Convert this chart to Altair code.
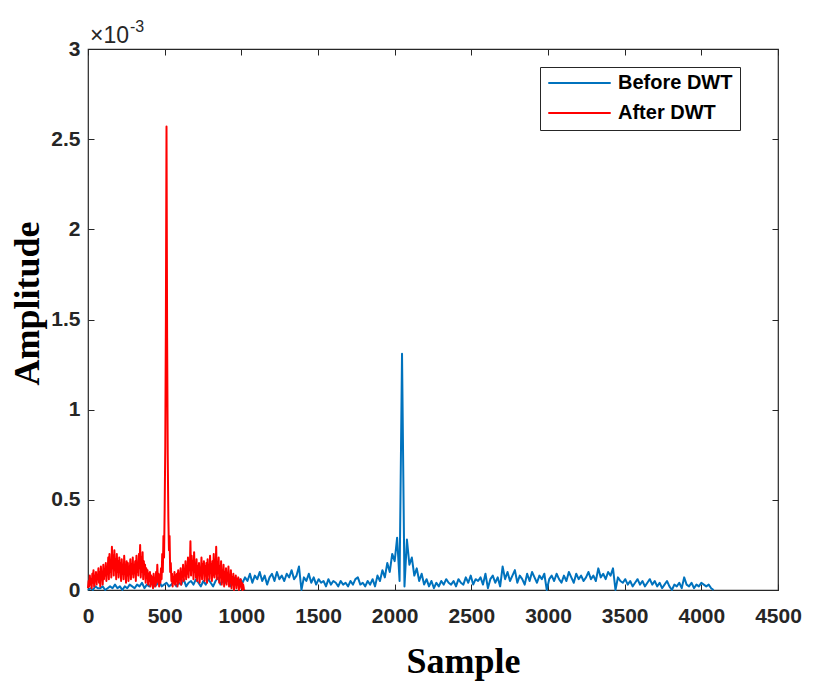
import altair as alt
import pandas as pd

# ---------------- data (amplitude in units of 1e-3) ----------------
blue_step = 16
blue_vals = [
    0.00, 0.01, 0.00, 0.02, 0.01, 0.01, 0.02, 0.00, 0.01, 0.02, 0.01, 0.03, 0.01, 0.02, 0.00, 0.02,
    0.01, 0.03, 0.02, 0.01, 0.03, 0.02, 0.04, 0.01, 0.03, 0.02, 0.04, 0.02, 0.03, 0.05, 0.02, 0.03,
    0.04, 0.02, 0.03, 0.05, 0.02, 0.04, 0.03, 0.06, 0.02, 0.04, 0.05, 0.03, 0.06, 0.04, 0.02, 0.05,
    0.03, 0.06, 0.04, 0.02, 0.05, 0.07, 0.03, 0.05, 0.04, 0.06, 0.02, 0.05, 0.07, 0.03, 0.06, 0.04,
    0.07, 0.05, 0.09, 0.04, 0.08, 0.06, 0.10, 0.05, 0.08, 0.03, 0.07, 0.09, 0.05, 0.10, 0.06, 0.08,
    0.05, 0.09, 0.07, 0.11, 0.06, 0.08, 0.13, 0.00, 0.07, 0.05, 0.09, 0.04, 0.07, 0.03, 0.06, 0.04,
    0.05, 0.02, 0.06, 0.03, 0.05, 0.04, 0.02, 0.05, 0.03, 0.04, 0.02, 0.05, 0.03, 0.06, 0.07, 0.03,
    0.04, 0.02, 0.05, 0.03, 0.06, 0.02, 0.08, 0.05, 0.11, 0.07, 0.15, 0.10, 0.20, 0.16, 0.29, 0.05,
    1.31, 0.02, 0.28, 0.14, 0.18, 0.08, 0.12, 0.05, 0.09, 0.03, 0.06, 0.02, 0.05, 0.01, 0.04, 0.02,
    0.05, 0.03, 0.06, 0.04, 0.03, 0.05, 0.02, 0.06, 0.04, 0.03, 0.07, 0.04, 0.08, 0.03, 0.06, 0.05,
    0.07, 0.03, 0.09, 0.01, 0.06, 0.08, 0.04, 0.07, 0.02, 0.13, 0.06, 0.10, 0.05, 0.08, 0.11, 0.04,
    0.08, 0.06, 0.03, 0.09, 0.05, 0.10, 0.07, 0.04, 0.08, 0.06, 0.09, 0.00, 0.06, 0.08, 0.05, 0.09,
    0.06, 0.04, 0.08, 0.05, 0.10, 0.07, 0.04, 0.09, 0.06, 0.08, 0.05, 0.07, 0.10, 0.06, 0.08, 0.05,
    0.12, 0.07, 0.09, 0.06, 0.10, 0.08, 0.12, 0.00, 0.07, 0.05, 0.04, 0.06, 0.03, 0.05, 0.02, 0.04,
    0.06, 0.03, 0.05, 0.02, 0.04, 0.06, 0.03, 0.05, 0.02, 0.04, 0.01, 0.03, 0.05, 0.02, 0.00, 0.03,
    0.02, 0.04, 0.01, 0.07, 0.03, 0.02, 0.04, 0.01, 0.03, 0.02, 0.04, 0.03, 0.02, 0.03, 0.01, 0.00,
]

red_step = 4
red_vals = [
    0.01, 0.05, 0.02, 0.08, 0.03, 0.06, 0.01, 0.09, 0.04, 0.11, 0.02, 0.07, 0.05, 0.10, 0.03, 0.08,
    0.06, 0.12, 0.04, 0.10, 0.02, 0.13, 0.07, 0.09, 0.03, 0.14, 0.06, 0.11, 0.08, 0.15, 0.05, 0.12,
    0.09, 0.18, 0.06, 0.20, 0.10, 0.16, 0.07, 0.24, 0.12, 0.19, 0.08, 0.22, 0.11, 0.17, 0.06, 0.20,
    0.10, 0.16, 0.07, 0.18, 0.12, 0.15, 0.05, 0.17, 0.09, 0.14, 0.06, 0.19, 0.11, 0.13, 0.04, 0.16,
    0.08, 0.15, 0.05, 0.12, 0.10, 0.17, 0.06, 0.14, 0.09, 0.18, 0.07, 0.13, 0.11, 0.16, 0.05, 0.19,
    0.10, 0.15, 0.08, 0.20, 0.12, 0.25, 0.07, 0.18, 0.10, 0.21, 0.06, 0.16, 0.09, 0.14, 0.04, 0.12,
    0.07, 0.11, 0.03, 0.09, 0.05, 0.10, 0.02, 0.08, 0.04, 0.07, 0.01, 0.09, 0.03, 0.06, 0.02, 0.10,
    0.04, 0.14, 0.05, 0.09, 0.02, 0.08, 0.04, 0.12, 0.06, 0.20, 0.10, 0.30, 0.18, 0.45, 0.80, 1.50,
    2.57, 1.40, 0.75, 0.40, 0.22, 0.30, 0.10, 0.15, 0.05, 0.09, 0.02, 0.07, 0.04, 0.10, 0.03, 0.08,
    0.05, 0.09, 0.02, 0.11, 0.04, 0.08, 0.06, 0.12, 0.03, 0.10, 0.07, 0.14, 0.05, 0.11, 0.08, 0.16,
    0.06, 0.13, 0.09, 0.18, 0.07, 0.15, 0.11, 0.27, 0.08, 0.19, 0.12, 0.16, 0.06, 0.21, 0.10, 0.14,
    0.07, 0.17, 0.05, 0.13, 0.09, 0.15, 0.04, 0.12, 0.08, 0.18, 0.06, 0.14, 0.10, 0.16, 0.05, 0.13,
    0.08, 0.15, 0.04, 0.17, 0.09, 0.12, 0.06, 0.19, 0.10, 0.14, 0.05, 0.16, 0.08, 0.20, 0.07, 0.13,
    0.09, 0.24, 0.06, 0.15, 0.10, 0.18, 0.04, 0.13, 0.07, 0.16, 0.03, 0.11, 0.06, 0.14, 0.02, 0.10,
    0.05, 0.12, 0.03, 0.09, 0.06, 0.13, 0.02, 0.08, 0.04, 0.11, 0.01, 0.07, 0.03, 0.09, 0.00, 0.06,
    0.03, 0.08, 0.01, 0.06, 0.04, 0.07, 0.00, 0.05, 0.02, 0.06, 0.01, 0.04, 0.00, 0.03, 0.01, 0.00,
]

series_names = ["Before DWT", "After DWT"]
series_colors = ["#0072BD", "#FF0000"]
x_ticks = [0, 500, 1000, 1500, 2000, 2500, 3000, 3500, 4000, 4500]
y_ticks = [0, 0.5, 1, 1.5, 2, 2.5, 3]
exponent_base = ["×10"]
exponent_power = ["-3"]

blue_df = pd.DataFrame({
    "sample": [i * blue_step for i in range(len(blue_vals))],
    "amp": blue_vals,
    "series": series_names[0],
})
red_df = pd.DataFrame({
    "sample": [i * red_step for i in range(len(red_vals))],
    "amp": red_vals,
    "series": series_names[1],
})

AX = "#262626"
x_scale = alt.Scale(domain=[0, 4500], nice=False, zero=False)
y_scale = alt.Scale(domain=[0, 3], nice=False, zero=False)

color_enc = alt.Color(
    "series:N",
    scale=alt.Scale(domain=series_names, range=series_colors),
    legend=alt.Legend(
        orient="none", legendX=452, legendY=18, direction="vertical",
        title="", symbolType="stroke", symbolSize=3900, symbolStrokeWidth=2,
        clipHeight=18, rowPadding=10, padding=7, labelOffset=6,
        labelFont="Liberation Sans", labelFontWeight="bold", labelFontSize=20,
        labelColor="black", strokeColor=AX, fillColor="white", cornerRadius=0,
        labelExpr="datum.label == 'Before DWT' ? '\u00a0Before DWT' : datum.label",
    ),
)

common_axis = dict(
    domain=False, grid=False, tickSize=6, offset=-6, tickColor=AX, tickWidth=1,
)

bottom_axis = alt.Axis(
    orient="bottom", values=x_ticks, format="d", labelFlush=False, labelOverlap=False,
    labelPadding=15, labelFont="Liberation Sans", labelFontWeight="bold",
    labelFontSize=21, labelColor=AX, title="Sample", titleFont="Liberation Serif",
    titleFontWeight="bold", titleFontSize=36, titleColor="black",
    titleX=375, titleY=88, titleBaseline="alphabetic", titleAlign="center",
    **common_axis,
)
left_axis = alt.Axis(
    orient="left", values=y_ticks, format="~g", labelFlush=False,
    labelOverlap=False, labelPadding=8, labelFont="Liberation Sans",
    labelFontWeight="bold", labelFontSize=21, labelColor=AX,
    title="Amplitude", titleFont="Liberation Serif", titleFontWeight="bold",
    titleFontSize=36, titleColor="black", titleAngle=270, titleX=-56,
    titleY=254, titleBaseline="alphabetic", titleAlign="center",
    **common_axis,
)
top_axis = alt.Axis(orient="top", values=x_ticks, labels=False, title="", **common_axis)
right_axis = alt.Axis(orient="right", values=y_ticks, labels=False, title="", **common_axis)

blue_line = alt.Chart(blue_df).mark_line(strokeWidth=2, strokeJoin="round").encode(
    x=alt.X("sample:Q", scale=x_scale, axis=bottom_axis),
    y=alt.Y("amp:Q", scale=y_scale, axis=left_axis),
    color=color_enc,
)
red_line = alt.Chart(red_df).mark_line(strokeWidth=2, strokeJoin="round").encode(
    x=alt.X("sample:Q", scale=x_scale, axis=top_axis),
    y=alt.Y("amp:Q", scale=y_scale, axis=right_axis),
    color=color_enc,
)

exp_base = alt.Chart(pd.DataFrame({"t": exponent_base})).mark_text(
    align="left", baseline="alphabetic", font="Liberation Sans", fontSize=23, color=AX,
).encode(x=alt.value(2), y=alt.value(-6), text="t:N")
exp_pow = alt.Chart(pd.DataFrame({"t": exponent_power})).mark_text(
    align="left", baseline="alphabetic", font="Liberation Sans", fontSize=16, color=AX,
).encode(x=alt.value(42), y=alt.value(-17), text="t:N")

chart = (
    alt.layer(blue_line, red_line, exp_base, exp_pow)
    .resolve_axis(x="independent", y="independent")
    .properties(
        width=690, height=541,
        autosize=alt.AutoSizeParams(type="none"),
        padding={"left": 80, "top": 41, "right": 40, "bottom": 100},
        background="white",
    )
    .configure_view(stroke=AX, strokeWidth=1.2)
)

chart.save("out.html", embed_options={"renderer": "svg", "actions": False})
